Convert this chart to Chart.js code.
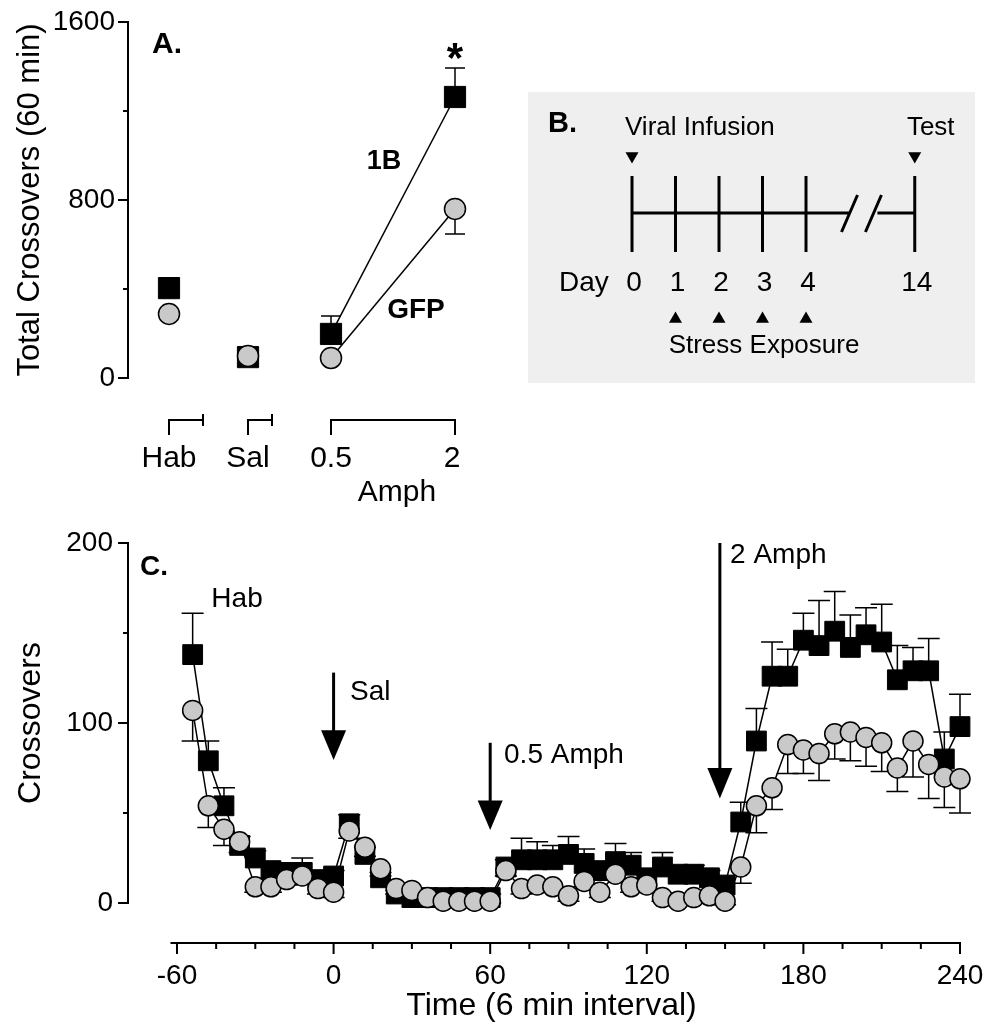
<!DOCTYPE html>
<html>
<head>
<meta charset="utf-8">
<script src="https://cdn.jsdelivr.net/npm/chart.js@4.4.1/dist/chart.umd.min.js"></script>
<style>
  html, body { margin: 0; padding: 0; background: #fff; }
  #page { position: relative; width: 987px; height: 1024px; overflow: hidden; }
  canvas { position: absolute; }
  #chartA { left: 0; top: 0; }
  #chartB { left: 528px; top: 92px; background: #efefef; }
  #chartC { left: 0; top: 520px; }
</style>
</head>
<body>
<div id="page">
  <canvas id="chartA" width="510" height="520"></canvas>
  <canvas id="chartB" width="447" height="291"></canvas>
  <canvas id="chartC" width="987" height="504"></canvas>
</div>
<script>
const FONT = '"Liberation Sans", Arial, Helvetica, sans-serif';
Chart.defaults.font.family = FONT;
Chart.defaults.color = '#000';

// ---- panel A: 60 min totals ----
const groupsA = ['Hab', 'Sal', '0.5', '2'];
const slotA = [41, 120, 203, 327];          // where each group sits on the A x scale
const totalB = [404, 94, 198, 1263];
const totalGFP = [288, 99, 90, 760];
const semTotalB = [20, 10, 81, 130];
const semTotalGFP = [15, 10, 10, 113];
const yTicksA = [0, 400, 800, 1200, 1600];

// ---- panel B: timeline ----
const dayLabels = ['0', '1', '2', '3', '4', '14'];
const daySlot = [0, 1, 2, 3, 4, 6.5];       // day 14 sits after the axis break
const stressSlot = [1, 2, 3, 4];
const eventSlot = [0, 6.5];                 // viral infusion, test
const breakSlot = [5.0, 5.55];

// ---- panel C: crossovers per 6 min ----
const timeC = [-54, -48, -42, -36, -30, -24, -18, -12, -6, 0,
  6, 12, 18, 24, 30, 36, 42, 48, 54, 60,
  66, 72, 78, 84, 90, 96, 102, 108, 114, 120, 126, 132, 138, 144, 150,
  156, 162, 168, 174, 180, 186, 192, 198, 204, 210, 216, 222, 228, 234, 240];
const crossB = [138, 79, 54, 32, 25, 18, 17, 17, 13, 15,
  44, 27, 14, 5, 3, 3, 3, 3, 3, 3,
  20, 24, 24, 24, 27, 22, 18, 23, 21, 14, 20, 16, 16, 14, 10,
  45, 90, 126, 126, 146, 143, 151, 142, 149, 145, 124, 129, 129, 80, 98];
const crossGFP = [107, 54, 41, 34, 9, 9, 13, 15, 8, 6,
  40, 31, 19, 8, 7, 3, 1, 1, 1, 1,
  18, 8, 10, 9, 4, 12, 6, 16, 9, 10, 3, 1, 3, 4, 1,
  20, 54, 64, 88, 85, 83, 94, 95, 92, 89, 75, 90, 77, 70, 69];
const semB = [23, 11, 10, 5, 4, 3, 4, 8, 3, 3,
  5, 4, 3, 2, 2, 2, 2, 2, 2, 2,
  4, 12, 10, 8, 10, 8, 4, 10, 7, 4, 8, 4, 5, 4, 3,
  11, 18, 19, 15, 15, 25, 22, 18, 15, 21, 19, 13, 18, 15, 18];
const semGFP = [17, 12, 9, 6, 3, 3, 3, 3, 3, 3,
  4, 5, 4, 3, 3, 2, 1, 1, 1, 1,
  3, 3, 3, 3, 3, 3, 3, 3, 3, 3, 2, 2, 2, 2, 2,
  9, 15, 12, 16, 13, 15, 14, 16, 16, 16, 13, 20, 19, 17, 19];
const xTicksC = [-60, -45, -30, -15, 0, 15, 30, 45, 60, 75, 90, 105, 120, 135, 150, 165, 180, 195, 210, 225, 240];
const yTicksC = [0, 50, 100, 150, 200];

// injection arrows: x time, line top, head base, tip, label anchor
const arrowsC = [
  { text: 'Sal', t: 0, from: 128, head: 96, tip: 79.5, lt: 6.3, lv: 117 },
  { text: '0.5 Amph', t: 60, from: 89, head: 57, tip: 40.5, lt: 65.3, lv: 82 },
  { text: '2 Amph', t: 148, from: 200, head: 75, tip: 58, lt: 151.9, lv: 193 }
];

// error bars drawn under the markers
const errorBars = {
  id: 'errorBars',
  beforeDatasetsDraw(chart) {
    const ctx = chart.ctx;
    const yScale = chart.scales.y;
    chart.data.datasets.forEach((ds, di) => {
      if (!ds.errors) return;
      const meta = chart.getDatasetMeta(di);
      ctx.save();
      ctx.strokeStyle = '#000';
      ctx.lineWidth = 1.5;
      meta.data.forEach((pt, i) => {
        const e = ds.errors[i];
        if (!e) return;
        const yEnd = yScale.getPixelForValue(ds.data[i].y + ds.errDir * e);
        ctx.beginPath();
        ctx.moveTo(pt.x, pt.y);
        ctx.lineTo(pt.x, yEnd);
        ctx.moveTo(pt.x - ds.capHalf, yEnd);
        ctx.lineTo(pt.x + ds.capHalf, yEnd);
        ctx.stroke();
      });
      ctx.restore();
    });
  }
};

function tickMarks(ctx, scale, values, isMajor, majLen, minLen) {
  ctx.save();
  ctx.strokeStyle = '#000';
  ctx.lineWidth = 2;
  ctx.beginPath();
  values.forEach(v => {
    const len = isMajor(v) ? majLen : minLen;
    const p = scale.getPixelForValue(v);
    if (scale.isHorizontal()) {
      ctx.moveTo(p, scale.top);
      ctx.lineTo(p, scale.top + len);
    } else {
      ctx.moveTo(scale.right, p);
      ctx.lineTo(scale.right - len, p);
    }
  });
  ctx.stroke();
  ctx.restore();
}

function text(ctx, str, x, y, size, opts = {}) {
  ctx.save();
  ctx.fillStyle = '#000';
  ctx.font = (opts.bold ? 'bold ' : '') + size + 'px ' + FONT;
  ctx.textAlign = opts.align || 'center';
  ctx.textBaseline = opts.baseline || 'middle';
  if (opts.rotate) {
    ctx.translate(x, y);
    ctx.rotate(opts.rotate);
    ctx.fillText(str, 0, 0);
  } else {
    ctx.fillText(str, x, y);
  }
  ctx.restore();
}

function noPad(s) { s.paddingLeft = 0; s.paddingRight = 0; s.paddingTop = 0; s.paddingBottom = 0; }

const baseOpts = {
  responsive: false,
  animation: false,
  events: [],
  plugins: { legend: { display: false }, tooltip: { enabled: false } }
};

// ================= Panel A =================
const decorA = {
  id: 'decorA',
  afterDraw(chart) {
    const { ctx, scales: { x, y }, chartArea } = chart;
    ctx.save();
    ctx.strokeStyle = '#000';
    ctx.lineWidth = 2;
    ctx.beginPath();
    ctx.moveTo(chartArea.left, y.getPixelForValue(0) + 1);
    ctx.lineTo(chartArea.left, y.getPixelForValue(1600) - 1);
    ctx.stroke();
    ctx.restore();
    tickMarks(ctx, y, yTicksA, v => v % 800 === 0, 10, 5);

    // group brackets under the plot
    const by = 420;
    const px = v => x.getPixelForValue(v);
    ctx.save();
    ctx.strokeStyle = '#000';
    ctx.lineWidth = 2;
    ctx.beginPath();
    [[slotA[0], 75], [slotA[1], 144]].forEach(([a, b]) => {
      ctx.moveTo(px(a), by + 15); ctx.lineTo(px(a), by); ctx.lineTo(px(b), by);
      ctx.moveTo(px(b), by - 6); ctx.lineTo(px(b), by + 6);
    });
    ctx.moveTo(px(slotA[2]), by + 15); ctx.lineTo(px(slotA[2]), by);
    ctx.lineTo(px(slotA[3]), by); ctx.lineTo(px(slotA[3]), by + 15);
    ctx.stroke();
    ctx.restore();

    groupsA.forEach((g, i) => text(ctx, g, px(slotA[i]) + (i === 3 ? -3 : 0), 459, 30));
    text(ctx, 'Amph', (px(slotA[2]) + px(slotA[3])) / 2 + 4, 493, 30);

    text(ctx, 'A.', 152, 45, 30, { bold: true, align: 'left' });
    text(ctx, '1B', 384, 162, 27, { bold: true });
    text(ctx, 'GFP', 416, 310, 28, { bold: true });
    text(ctx, '*', px(slotA[3]), 72, 42, { bold: true, baseline: 'alphabetic' });
  }
};

new Chart(document.getElementById('chartA'), {
  type: 'scatter',
  data: {
    datasets: [
      {
        label: 'GFP',
        data: groupsA.map((g, i) => ({ x: slotA[i], y: totalGFP[i] })),
        showLine: true,
        borderColor: '#000',
        borderWidth: 1.5,
        segment: { borderColor: c => c.p0DataIndex === 2 ? '#000' : 'rgba(0,0,0,0)' },
        pointStyle: 'circle',
        pointRadius: 10.5,
        pointBackgroundColor: '#c9c9c9',
        pointBorderColor: '#000',
        pointBorderWidth: 1.5,
        errors: semTotalGFP, errDir: -1, capHalf: 10,
        clip: false
      },
      {
        label: '1B',
        data: groupsA.map((g, i) => ({ x: slotA[i], y: totalB[i] })),
        showLine: true,
        borderColor: '#000',
        borderWidth: 1.5,
        segment: { borderColor: c => c.p0DataIndex === 2 ? '#000' : 'rgba(0,0,0,0)' },
        pointStyle: 'rect',
        pointRadius: 15,
        pointBackgroundColor: '#000',
        pointBorderColor: '#000',
        pointBorderWidth: 1,
        errors: semTotalB, errDir: 1, capHalf: 10,
        clip: false
      }
    ]
  },
  options: {
    ...baseOpts,
    layout: { autoPadding: false, padding: { top: 22, left: 0, right: 20, bottom: 142 } },
    scales: {
      x: { type: 'linear', display: false, min: 0, max: 362 },
      y: {
        type: 'linear', min: 0, max: 1600,
        afterBuildTicks: s => { s.ticks = yTicksA.map(v => ({ value: v })); },
        afterFit: s => { s.width = 128; noPad(s); },
        border: { display: false },
        grid: { drawOnChartArea: false, drawTicks: true, tickLength: 10, tickColor: 'rgba(0,0,0,0)' },
        ticks: { autoSkip: false, padding: 3, font: { size: 28 }, color: '#000',
                 callback: v => v % 800 === 0 ? String(v) : '' },
        title: { display: true, text: 'Total Crossovers (60 min)', color: '#000',
                 font: { size: 31 }, padding: { top: 12, bottom: 0 } }
      }
    }
  },
  plugins: [errorBars, decorA]
});

// ================= Panel B =================
const rowB = { down: 64, tick: 122, line: 121, up: 227 };

const decorB = {
  id: 'decorB',
  beforeDatasetsDraw(chart) {
    const { ctx, scales: { x, y } } = chart;
    const ly = y.getPixelForValue(rowB.line);
    const b0 = x.getPixelForValue(breakSlot[0]);
    const b1 = x.getPixelForValue(breakSlot[1]);
    ctx.save();
    ctx.strokeStyle = '#000';
    ctx.lineWidth = 3;
    ctx.beginPath();
    ctx.moveTo(x.getPixelForValue(daySlot[0]), ly);
    ctx.lineTo(b0, ly);
    ctx.moveTo(b1 + 4, ly);
    ctx.lineTo(x.getPixelForValue(daySlot[5]), ly);
    [b0, b1].forEach(b => { ctx.moveTo(b - 8, ly + 19); ctx.lineTo(b + 8, ly - 18); });
    ctx.stroke();
    ctx.restore();
  },
  afterDraw(chart) {
    const { ctx, scales: { x } } = chart;
    text(ctx, 'B.', 20, 32, 29, { bold: true, align: 'left' });
    text(ctx, 'Viral Infusion', 97, 36, 26, { align: 'left' });
    text(ctx, 'Test', x.getPixelForValue(eventSlot[1]) + 16, 36, 26);
    text(ctx, 'Day', 31, 191, 28, { align: 'left' });
    dayLabels.forEach((d, i) => text(ctx, d, x.getPixelForValue(daySlot[i]) + 2, 191, 28));
    text(ctx, 'Stress Exposure', 236, 254, 26);
  }
};

new Chart(document.getElementById('chartB'), {
  type: 'scatter',
  data: {
    datasets: [
      {
        data: daySlot.map(d => ({ x: d, y: rowB.tick })),
        pointStyle: 'line', rotation: 90, pointRadius: 38,
        pointBorderWidth: 3, pointBorderColor: '#000', pointBackgroundColor: '#000',
        clip: false
      },
      {
        data: eventSlot.map(d => ({ x: d, y: rowB.down })),
        pointStyle: 'triangle', rotation: 180, pointRadius: 7.5,
        pointBorderWidth: 0, pointBackgroundColor: '#000',
        clip: false
      },
      {
        data: stressSlot.map(d => ({ x: d, y: rowB.up })),
        pointStyle: 'triangle', rotation: 0, pointRadius: 7.5,
        pointBorderWidth: 0, pointBackgroundColor: '#000',
        clip: false
      }
    ]
  },
  options: {
    ...baseOpts,
    layout: { autoPadding: false, padding: 0 },
    scales: {
      x: { type: 'linear', display: false, min: -2.391, max: 7.885 },
      y: { type: 'linear', display: false, min: 0, max: 291, reverse: true }
    }
  },
  plugins: [decorB]
});

// ================= Panel C =================
const decorC = {
  id: 'decorC',
  afterDraw(chart) {
    const { ctx, scales: { x, y }, chartArea } = chart;
    ctx.save();
    ctx.strokeStyle = '#000';
    ctx.lineWidth = 2;
    ctx.beginPath();
    ctx.moveTo(chartArea.left, y.getPixelForValue(0) + 1);
    ctx.lineTo(chartArea.left, y.getPixelForValue(200) - 1);
    ctx.moveTo(x.getPixelForValue(-62.5), x.top);
    ctx.lineTo(x.getPixelForValue(240) + 1, x.top);
    ctx.stroke();
    ctx.restore();
    tickMarks(ctx, y, yTicksC, v => v % 100 === 0, 10, 5);
    tickMarks(ctx, x, xTicksC, v => v % 60 === 0, 11, 6);

    text(ctx, 'Crossovers', 31, y.getPixelForValue(100), 32, { rotate: -Math.PI / 2 });
    text(ctx, 'C.', 140, 47, 28, { bold: true, align: 'left' });
    text(ctx, 'Hab', x.getPixelForValue(-37), y.getPixelForValue(169), 28);

    arrowsC.forEach(a => {
      const ax = x.getPixelForValue(a.t);
      const y0 = y.getPixelForValue(a.from);
      const yb = y.getPixelForValue(a.head);
      const yt = y.getPixelForValue(a.tip);
      ctx.save();
      ctx.strokeStyle = '#000';
      ctx.fillStyle = '#000';
      ctx.lineWidth = 3;
      ctx.beginPath();
      ctx.moveTo(ax, y0);
      ctx.lineTo(ax, yb + 2);
      ctx.stroke();
      ctx.beginPath();
      ctx.moveTo(ax - 12.5, yb);
      ctx.lineTo(ax + 12.5, yb);
      ctx.lineTo(ax, yt);
      ctx.closePath();
      ctx.fill();
      ctx.restore();
      text(ctx, a.text, x.getPixelForValue(a.lt), y.getPixelForValue(a.lv), 28, { align: 'left' });
    });
  }
};

new Chart(document.getElementById('chartC'), {
  type: 'scatter',
  data: {
    datasets: [
      {
        label: 'GFP',
        data: timeC.map((t, i) => ({ x: t, y: crossGFP[i] })),
        showLine: true,
        borderColor: '#000',
        borderWidth: 1.5,
        pointStyle: 'circle',
        pointRadius: 10,
        pointBackgroundColor: '#c9c9c9',
        pointBorderColor: '#000',
        pointBorderWidth: 1.5,
        errors: semGFP, errDir: -1, capHalf: 11,
        clip: false
      },
      {
        label: '1B',
        data: timeC.map((t, i) => ({ x: t, y: crossB[i] })),
        showLine: true,
        borderColor: '#000',
        borderWidth: 1.5,
        pointStyle: 'rect',
        pointRadius: 14,
        pointBackgroundColor: '#000',
        pointBorderColor: '#000',
        pointBorderWidth: 1,
        errors: semB, errDir: 1, capHalf: 11,
        clip: false
      }
    ]
  },
  options: {
    ...baseOpts,
    layout: { autoPadding: false, padding: { top: 23, left: 0, right: 12, bottom: 0 } },
    scales: {
      x: {
        type: 'linear', min: -78.77, max: 245.75,
        afterBuildTicks: s => { s.ticks = xTicksC.map(v => ({ value: v })); },
        afterFit: s => { s.height = 81; noPad(s); },
        border: { display: false },
        grid: { drawOnChartArea: false, drawTicks: true, tickLength: 11, tickColor: 'rgba(0,0,0,0)' },
        ticks: { autoSkip: false, maxRotation: 0, padding: 5, font: { size: 28 }, color: '#000',
                 callback: v => v % 60 === 0 ? String(v) : '' },
        title: { display: true, text: 'Time (6 min interval)', color: '#000',
                 font: { size: 32, lineHeight: 1 }, padding: { top: 0, bottom: 2 } }
      },
      y: {
        type: 'linear', min: -22.22, max: 200,
        afterBuildTicks: s => { s.ticks = yTicksC.map(v => ({ value: v })); },
        afterFit: s => { s.width = 128; noPad(s); },
        border: { display: false },
        grid: { drawOnChartArea: false, drawTicks: true, tickLength: 10, tickColor: 'rgba(0,0,0,0)' },
        ticks: { autoSkip: false, padding: 5, font: { size: 28 }, color: '#000',
                 callback: v => v % 100 === 0 ? String(v) : '' }
      }
    }
  },
  plugins: [errorBars, decorC]
});
</script>
</body>
</html>
